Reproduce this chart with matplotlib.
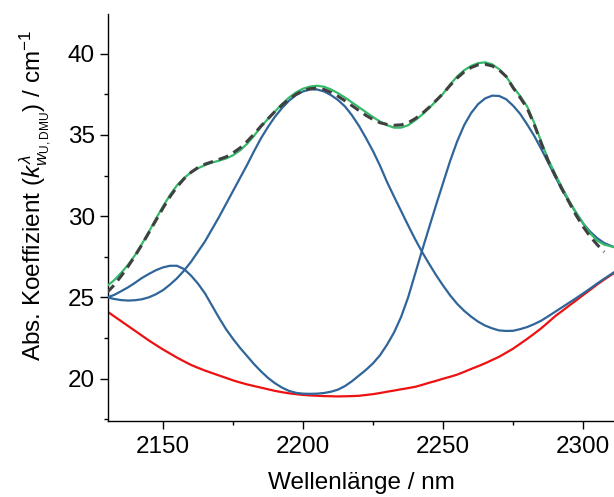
import numpy as np
import matplotlib.pyplot as plt
from matplotlib.ticker import MultipleLocator

plt.rcParams["font.family"] = ["Liberation Sans", "DejaVu Sans"]
plt.rcParams["mathtext.fontset"] = "custom"
plt.rcParams["mathtext.rm"] = "Liberation Sans"
plt.rcParams["mathtext.it"] = "Liberation Sans:italic"

# --- data (wavelength in nm, coefficient in 1/cm) ---
wl = [2130, 2132.5, 2135, 2137.5, 2140, 2142.5, 2145, 2147.5, 2150, 2152.5,
      2155, 2157.5, 2160, 2162.5, 2165, 2167.5, 2170, 2172.5, 2175, 2177.5,
      2180, 2182.5, 2185, 2187.5, 2190, 2192.5, 2195, 2197.5, 2200, 2202.5,
      2205, 2207.5, 2210, 2212.5, 2215, 2217.5, 2220, 2222.5, 2225, 2227.5,
      2230, 2232.5, 2235, 2237.5, 2240, 2242.5, 2245, 2247.5, 2250, 2252.5,
      2255, 2257.5, 2260, 2262.5, 2265, 2267.5, 2270, 2272.5, 2275, 2277.5,
      2280, 2282.5, 2285, 2287.5, 2290, 2292.5, 2295, 2297.5, 2300, 2302.5,
      2305, 2307.5, 2311]

baseline = [24.15, 23.85, 23.55, 23.25, 22.95, 22.65, 22.35, 22.07, 21.8, 21.55,
            21.3, 21.07, 20.85, 20.67, 20.5, 20.35, 20.2, 20.05, 19.9, 19.77,
            19.65, 19.55, 19.45, 19.35, 19.25, 19.17, 19.1, 19.05, 19.0, 18.97,
            18.95, 18.93, 18.92, 18.91, 18.92, 18.93, 18.95, 19.0, 19.05, 19.12,
            19.2, 19.27, 19.35, 19.42, 19.5, 19.62, 19.75, 19.87, 20.0, 20.12,
            20.25, 20.42, 20.6, 20.77, 20.95, 21.15, 21.35, 21.6, 21.85, 22.15,
            22.45, 22.77, 23.1, 23.47, 23.85, 24.17, 24.5, 24.82, 25.15, 25.47,
            25.8, 26.1, 26.5]

# component: band at ~2204 nm on top of the baseline
band_2204 = [25.01, 24.91, 24.84, 24.81, 24.83, 24.89, 25.01, 25.2, 25.45, 25.79,
             26.18, 26.65, 27.19, 27.82, 28.45, 29.2, 29.95, 30.75, 31.55, 32.35,
             33.15, 34.0, 34.8, 35.5, 36.13, 36.66, 37.11, 37.46, 37.68, 37.8,
             37.8, 37.68, 37.45, 37.15, 36.75, 36.2, 35.55, 34.8, 34.0, 33.1,
             32.1, 31.2, 30.32, 29.44, 28.59, 27.8, 27.07, 26.37, 25.73, 25.13,
             24.61, 24.18, 23.82, 23.51, 23.27, 23.1, 22.97, 22.94, 22.95, 23.05,
             23.18, 23.36, 23.57, 23.84, 24.12, 24.4, 24.68, 24.96, 25.25, 25.55,
             25.86, 26.15, 26.55]

# component: bands at ~2155 nm and ~2268 nm on top of the baseline
band_2155_2268 = [25.0, 25.15, 25.38, 25.62, 25.9, 26.2, 26.45, 26.68, 26.85, 26.95,
                  26.95, 26.75, 26.35, 25.85, 25.25, 24.5, 23.75, 23.05, 22.45, 21.9,
                  21.4, 20.9, 20.45, 20.05, 19.72, 19.45, 19.25, 19.13, 19.08, 19.07,
                  19.08, 19.12, 19.2, 19.33, 19.55, 19.85, 20.2, 20.55, 20.95, 21.45,
                  22.1, 22.85, 23.8, 25.0, 26.45, 27.9, 29.3, 30.7, 32.05, 33.4,
                  34.6, 35.6, 36.35, 36.9, 37.25, 37.42, 37.4, 37.2, 36.8, 36.3,
                  35.65, 34.95, 34.15, 33.3, 32.45, 31.6, 30.9, 30.2, 29.55, 29.05,
                  28.65, 28.35, 28.1]

fit_sum = [25.7, 26.05, 26.5, 27.0, 27.6, 28.3, 29.05, 29.85, 30.6, 31.3,
           31.9, 32.35, 32.7, 32.95, 33.15, 33.3, 33.42, 33.55, 33.75, 34.05,
           34.45, 34.95, 35.5, 36.0, 36.45, 36.9, 37.3, 37.62, 37.85, 37.98,
           38.03, 37.97, 37.8, 37.57, 37.3, 37.0, 36.7, 36.4, 36.1, 35.82,
           35.6, 35.45, 35.45, 35.6, 35.9, 36.25, 36.65, 37.1, 37.55, 38.1,
           38.6, 38.98, 39.25, 39.42, 39.47, 39.35, 39.05, 38.6, 37.95, 37.4,
           36.75, 35.75, 34.6, 33.5, 32.6, 31.75, 30.95, 30.2, 29.55, 28.95,
           28.5, 28.25, 28.1]

# measured spectrum stops a little before the right edge
wl_meas = wl[:-1]
measured = [25.3, 25.75, 26.3, 26.9, 27.55, 28.25, 29.0, 29.75, 30.5, 31.2,
            31.8, 32.3, 32.7, 33.0, 33.2, 33.35, 33.5, 33.65, 33.9, 34.2,
            34.6, 35.05, 35.55, 36.0, 36.45, 36.85, 37.2, 37.5, 37.72, 37.85,
            37.88, 37.8, 37.62, 37.38, 37.1, 36.8, 36.5, 36.2, 35.95, 35.75,
            35.65, 35.6, 35.62, 35.75, 36.0, 36.32, 36.7, 37.12, 37.55, 38.05,
            38.5, 38.88, 39.15, 39.32, 39.35, 39.25, 39.0, 38.6, 37.9, 37.3,
            36.65, 35.65, 34.5, 33.4, 32.5, 31.65, 30.85, 30.05, 29.35, 28.75,
            28.25, 27.8]

# --- figure ---
fig = plt.figure(figsize=(6.14, 4.97), dpi=100)
ax = fig.add_axes([0.176, 0.153, 0.824, 0.819])

blue = "#2f6599"
ax.plot(wl, baseline, color="#ee1111", lw=1.6, zorder=2)
ax.plot(wl, band_2204, color=blue, lw=1.6, zorder=3)
ax.plot(wl, band_2155_2268, color=blue, lw=1.6, zorder=3)
ax.plot(wl, fit_sum, color="#33bb6a", lw=1.6, zorder=4)
ax.plot(wl_meas, measured, color="#404040", lw=2.2, ls=(0, (3.3, 2)), zorder=5)

ax.set_xlim(2130.4, 2311)
ax.set_ylim(17.4, 42.45)
ax.xaxis.set_major_locator(MultipleLocator(50))
ax.xaxis.set_minor_locator(MultipleLocator(25))
ax.yaxis.set_major_locator(MultipleLocator(5))
ax.yaxis.set_minor_locator(MultipleLocator(2.5))

for s in ["top", "right"]:
    ax.spines[s].set_visible(False)
for s in ["left", "bottom"]:
    ax.spines[s].set_linewidth(1.0)

ax.tick_params(which="major", direction="out", length=5.5, width=1.0,
               labelsize=17.5)
ax.tick_params(axis="x", which="major", pad=5)
ax.tick_params(axis="y", which="major", pad=4)
ax.tick_params(which="minor", direction="out", length=3, width=1.0)

ax.set_xlabel("Wellenlänge / nm", fontsize=17.5, labelpad=10.5)
ax.set_ylabel(r"Abs. Koeffizient ($k^{\lambda}_{w_{\mathrm{U,DMU}}}$) / cm$^{-1}$",
              fontsize=17.5, labelpad=10)
ax.yaxis.label.set_y(0.553)

fig.savefig("out.png", dpi=100)
